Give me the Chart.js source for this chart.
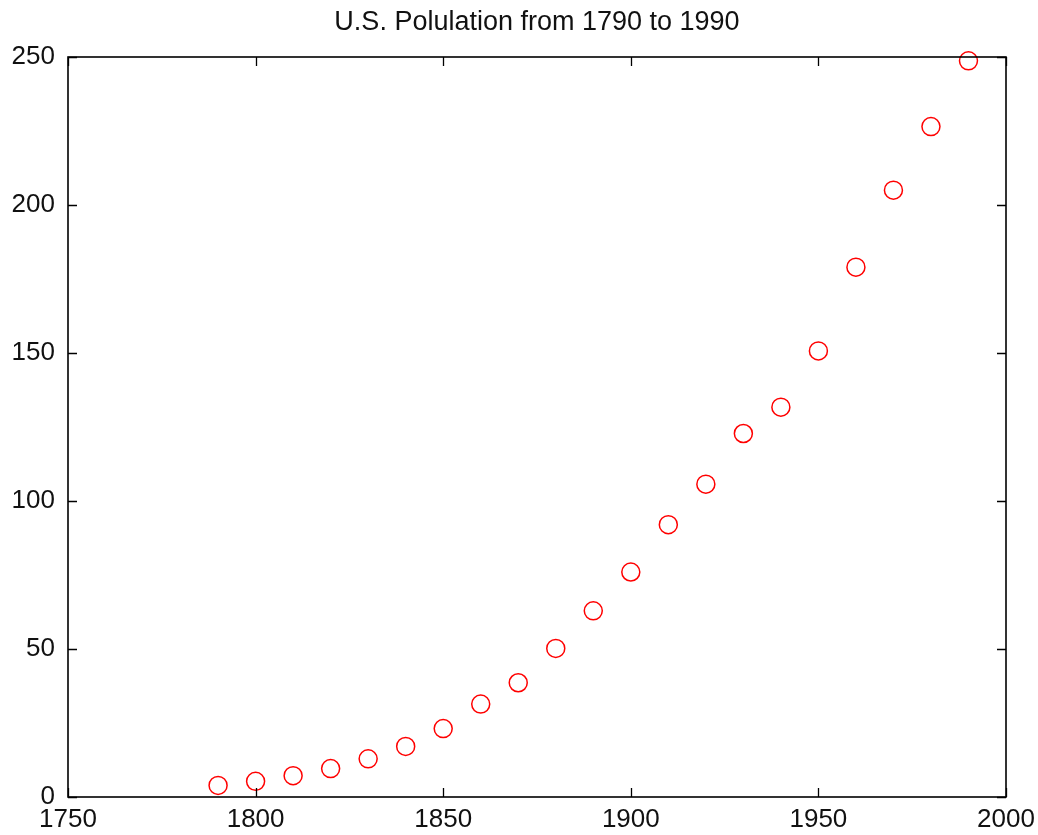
<!DOCTYPE html>
<html>
<head>
<meta charset="utf-8">
<script src="https://cdn.jsdelivr.net/npm/chart.js@4"></script>
<style>
  html, body { margin: 0; padding: 0; background: #fff; }
  #wrap { width: 1038px; height: 835px; }
</style>
</head>
<body>
<div id="wrap"><canvas id="chart"></canvas></div>
<script>
// census years and population (millions)
const years = [1790, 1800, 1810, 1820, 1830, 1840, 1850, 1860, 1870, 1880,
  1890, 1900, 1910, 1920, 1930, 1940, 1950, 1960, 1970, 1980, 1990];
const population = [3.9, 5.3, 7.2, 9.6, 12.9, 17.1, 23.1, 31.4, 38.6, 50.2,
  62.9, 76.0, 92.0, 105.7, 122.8, 131.7, 150.7, 179.0, 205.0, 226.5, 248.7];
const xTicks = [1750, 1800, 1850, 1900, 1950, 2000];
const yTicks = [0, 50, 100, 150, 200, 250];
const titleText = 'U.S. Polulation from 1790 to 1990';

const points = years.map((y, i) => ({ x: y, y: population[i] }));
const fontFamily = 'Liberation Sans, Arial, sans-serif';

// box around the plot with inward ticks on every side, title over the plot
const frame = {
  id: 'frame',
  afterDraw(chart) {
    const { ctx, chartArea: a, scales } = chart;
    const len = 9;
    ctx.save();
    ctx.strokeStyle = '#000';
    ctx.lineWidth = 1.6;
    ctx.strokeRect(a.left, a.top, a.right - a.left, a.bottom - a.top);
    ctx.beginPath();
    xTicks.forEach(v => {
      const px = Math.round(scales.x.getPixelForValue(v)) + 0.5;
      ctx.moveTo(px, a.bottom); ctx.lineTo(px, a.bottom - len);
      ctx.moveTo(px, a.top); ctx.lineTo(px, a.top + len);
    });
    yTicks.forEach(v => {
      const py = Math.round(scales.y.getPixelForValue(v)) + 0.5;
      ctx.moveTo(a.left, py); ctx.lineTo(a.left + len, py);
      ctx.moveTo(a.right, py); ctx.lineTo(a.right - len, py);
    });
    ctx.lineWidth = 1.3;
    ctx.stroke();

    ctx.fillStyle = '#111';
    ctx.font = '27px ' + fontFamily;
    ctx.textAlign = 'center';
    ctx.textBaseline = 'middle';
    ctx.fillText(titleText, (a.left + a.right) / 2, 23);
    ctx.restore();
  }
};

const tickFont = { family: fontFamily, size: 26 };

new Chart(document.getElementById('chart'), {
  type: 'scatter',
  data: {
    datasets: [{
      data: points,
      pointStyle: 'circle',
      pointRadius: 9,
      pointHoverRadius: 9,
      borderColor: '#ff0000',
      backgroundColor: 'rgba(0,0,0,0)',
      borderWidth: 1.5,
      clip: false
    }]
  },
  options: {
    responsive: true,
    maintainAspectRatio: false,
    animation: false,
    layout: { padding: { left: 0, right: 32, top: 57, bottom: 0 } },
    plugins: {
      legend: { display: false },
      tooltip: { enabled: false },
      title: { display: false }
    },
    scales: {
      x: {
        type: 'linear',
        min: 1750,
        max: 2000,
        afterBuildTicks: s => { s.ticks = xTicks.map(v => ({ value: v })); },
        afterFit: s => { s.height = 38; s.paddingLeft = 0; s.paddingRight = 0; },
        grid: { display: false, drawTicks: false },
        border: { display: false },
        ticks: { color: '#111', font: tickFont, padding: 7, maxRotation: 0, callback: v => String(v) }
      },
      y: {
        type: 'linear',
        min: 0,
        max: 250,
        afterBuildTicks: s => { s.ticks = yTicks.map(v => ({ value: v })); },
        afterFit: s => { s.width = 68; s.paddingTop = 0; s.paddingBottom = 0; },
        grid: { display: false, drawTicks: false },
        border: { display: false },
        ticks: { color: '#111', font: tickFont, padding: 13, callback: v => String(v) }
      }
    }
  },
  plugins: [frame]
});
</script>
</body>
</html>
